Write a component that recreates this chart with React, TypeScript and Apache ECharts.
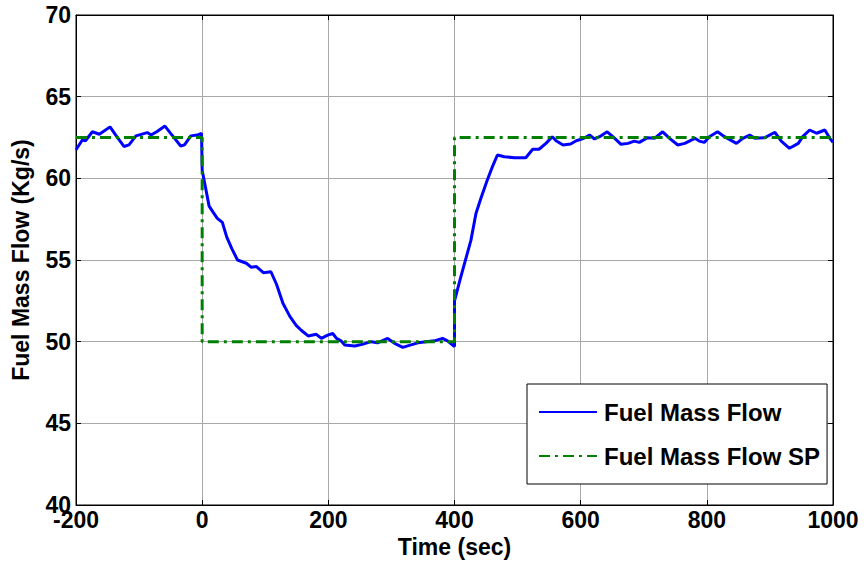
import React, { useEffect, useRef } from "react";
import * as echarts from "echarts";

const timeSec: number[] = [
  -200, -190, -185, -174, -163, -146, -137, -124, -116, -105, -87, -81, -72, -59, -50, -34, -28, -18, -8, -1,
  0, 2, 5, 11, 17, 24, 32, 39, 47, 56, 70, 78, 86, 97, 109, 118, 128, 139, 149, 157, 168, 181, 189, 199, 207,
  213, 220, 226, 242, 255, 268, 278, 294, 305, 318, 331, 342, 355, 368, 381, 389, 400,
  400, 410, 426, 434, 442, 452, 460, 468, 479, 495, 513, 524, 534, 545, 555, 561, 572, 584, 593, 605, 614,
  622, 630, 642, 651, 664, 675, 685, 693, 706, 717, 730, 741, 754, 765, 781, 788, 796, 804, 817, 828, 847,
  857, 868, 876, 892, 908, 918, 931, 945, 952, 963, 974, 987, 995, 1000,
];
const fuelFlow: number[] = [
  61.75, 62.35, 62.3, 62.85, 62.7, 63.15, 62.65, 61.95, 62.05, 62.6, 62.8, 62.65, 62.85, 63.2, 62.75, 61.98, 62.05, 62.6, 62.65, 62.75,
  60.5, 60.1, 59.5, 58.3, 57.95, 57.55, 57.3, 56.4, 55.7, 55.0, 54.8, 54.55, 54.6, 54.22, 54.28, 53.5, 52.35, 51.55, 51.0, 50.7, 50.35, 50.45, 50.2, 50.4, 50.5,
  50.2, 50.05, 49.8, 49.73, 49.85, 50.0, 49.93, 50.2, 49.9, 49.65, 49.8, 49.93, 50.0, 50.05, 50.2, 50.05, 49.7,
  52.5, 53.97, 56.2, 57.85, 58.8, 59.9, 60.7, 61.43, 61.32, 61.26, 61.26, 61.78, 61.78, 62.14, 62.55, 62.3, 62.04, 62.1, 62.3, 62.45, 62.65,
  62.41, 62.55, 62.85, 62.55, 62.08, 62.14, 62.28, 62.2, 62.49, 62.45, 62.85, 62.45, 62.04, 62.14, 62.45, 62.28, 62.2, 62.55, 62.85, 62.55, 62.14,
  62.45, 62.65, 62.45, 62.49, 62.82, 62.28, 61.84, 62.14, 62.55, 62.96, 62.76, 62.96, 62.45, 62.2,
];
const spTime: number[] = [-200, 0, 0, 400, 400, 1000];
const spValue: number[] = [62.5, 62.5, 50, 50, 62.5, 62.5];

const FONT = "'Liberation Sans', Arial, sans-serif";

export default function App() {
  const ref = useRef<HTMLDivElement>(null);
  useEffect(() => {
    if (!ref.current) return;
    const chart = echarts.init(ref.current, null, { renderer: "svg" });
    const flow = timeSec.map((t, i) => [t, fuelFlow[i]]);
    const sp = spTime.map((t, i) => [t, spValue[i]]);
    const labelStyle = { color: "#000", fontFamily: FONT, fontWeight: "bold" as const, fontSize: 23 };
    const tick = { show: true, inside: true, length: 5, lineStyle: { color: "#000" } };
    const line = { show: true, onZero: false, lineStyle: { color: "#000", width: 1 } };
    chart.setOption({
      animation: false,
      backgroundColor: "#fff",
      grid: { left: 76, right: 31, top: 15, bottom: 60, show: true, borderColor: "#000", borderWidth: 1, backgroundColor: "transparent" },
      legend: {
        orient: "vertical",
        left: 527,
        top: 384,
        padding: [16, 7, 16, 11],
        itemGap: 20,
        itemWidth: 58,
        itemHeight: 14,
        backgroundColor: "#fff",
        borderColor: "#000",
        borderWidth: 1,
        borderRadius: 0,
        itemStyle: { opacity: 0 },
        textStyle: { ...labelStyle, fontSize: 24, lineHeight: 24, padding: [0, 0, 0, 2] },
        data: ["Fuel Mass Flow", "Fuel Mass Flow SP"],
      },
      xAxis: [
        {
          type: "value",
          min: -200,
          max: 1000,
          interval: 200,
          name: "Time (sec)",
          nameLocation: "middle",
          nameGap: 30,
          nameTextStyle: { ...labelStyle, fontSize: 23, verticalAlign: "top" },
          axisLine: line,
          axisTick: tick,
          axisLabel: { ...labelStyle, margin: 3, formatter: (v: number) => String(v) },
          splitLine: { show: true, lineStyle: { color: "#a8a8a8", width: 1 } },
        },
        {
          type: "value",
          position: "top",
          min: -200,
          max: 1000,
          interval: 200,
          axisLine: line,
          axisTick: tick,
          axisLabel: { show: false },
          splitLine: { show: false },
        },
      ],
      yAxis: [
        {
          type: "value",
          min: 40,
          max: 70,
          interval: 5,
          name: "Fuel Mass Flow (Kg/s)",
          nameLocation: "middle",
          nameGap: 44,
          nameTextStyle: { ...labelStyle, fontSize: 23 },
          axisLine: line,
          axisTick: tick,
          axisLabel: { ...labelStyle, margin: 5 },
          splitLine: { show: true, lineStyle: { color: "#a8a8a8", width: 1 } },
        },
        {
          type: "value",
          position: "right",
          min: 40,
          max: 70,
          interval: 5,
          axisLine: line,
          axisTick: tick,
          axisLabel: { show: false },
          splitLine: { show: false },
        },
      ],
      series: [
        {
          name: "Fuel Mass Flow",
          type: "line",
          data: flow,
          showSymbol: false,
          symbol: "none",
          color: "#0000ff",
          lineStyle: { color: "#0000ff", width: 3 },
          z: 3,
        },
        {
          name: "Fuel Mass Flow SP",
          type: "line",
          data: sp,
          showSymbol: false,
          symbol: "none",
          color: "#008000",
          lineStyle: { color: "#008000", width: 3, type: [11, 5, 3, 5] },
          z: 4,
        },
      ],
    });
    return () => chart.dispose();
  }, []);
  return <div ref={ref} style={{ width: 864, height: 565, position: "absolute", left: 0, top: 0 }} />;
}
